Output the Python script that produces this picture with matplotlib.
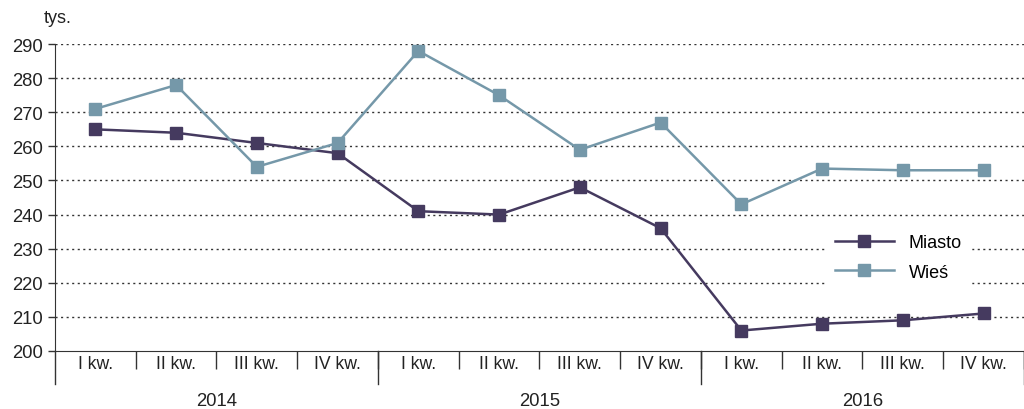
import matplotlib
matplotlib.use("Agg")
import matplotlib.pyplot as plt

plt.rcParams["font.family"] = ["Liberation Sans", "DejaVu Sans"]

quarters = ["I kw.", "II kw.", "III kw.", "IV kw."]
years = ["2014", "2015", "2016"]
miasto = [265, 264, 261, 258, 241, 240, 248, 236, 206, 208, 209, 211]
wies = [271, 278, 254, 261, 288, 275, 259, 267, 243, 253.5, 253, 253]

c_miasto = "#453a5f"
c_wies = "#7598a9"

fig = plt.figure(figsize=(10.24, 4.1), dpi=100)
ax = fig.add_axes([0.0537, 0.1415, 0.9463, 0.7485])

x = list(range(len(miasto)))
ax.plot(x, miasto, color=c_miasto, lw=1.8, marker="s", ms=8.7, label="Miasto", zorder=3)
ax.plot(x, wies, color=c_wies, lw=1.8, marker="s", ms=8.7, label="Wieś", zorder=3)

ax.set_ylim(200, 290)
ax.set_xlim(-0.5, 11.39)
ax.set_yticks(range(200, 291, 10))
for v in range(210, 291, 10):
    ax.axhline(v, color="#333333", lw=1, ls=(0, (1.5, 2.5)), zorder=1)

ax.spines["top"].set_visible(False)
ax.spines["right"].set_visible(False)
ax.spines["left"].set_color("#333333")
ax.spines["bottom"].set_color("#333333")
ax.spines["left"].set_bounds(200, 290)

# quarter boundaries as major ticks, labels on minor ticks
ax.set_xticks([i + 0.5 for i in range(len(miasto))])
ax.set_xticklabels([])
ax.tick_params(axis="x", which="major", length=13, width=1, color="#333333", direction="out")
ax.set_xticks(x, minor=True)
ax.set_xticklabels(quarters * len(years), minor=True, fontsize=12.7, color="#222222")
ax.tick_params(axis="x", which="minor", length=0, pad=3)
ax.tick_params(axis="y", length=5, width=1, color="#333333", labelsize=13.3, labelcolor="#222222")

# year separators and labels
trans = ax.get_xaxis_transform()
for b in [-0.5, 3.5, 7.5, 11.5]:
    ax.plot([b, b], [0, -0.107], transform=trans, color="#333333", lw=1, clip_on=False)
for i, yr in enumerate(years):
    ax.text(i * 4 + 1.5, -0.16, yr, transform=trans, ha="center", va="center",
            fontsize=13.3, color="#222222")

ax.text(-0.012, 1.06, "tys.", transform=ax.transAxes, ha="left", va="bottom",
        fontsize=13, color="#222222")

leg = ax.legend(loc="upper left", bbox_to_anchor=(0.786, 0.44), frameon=True,
                fontsize=13, handlelength=3.3, borderpad=0.5, labelspacing=0.7,
                fancybox=False)
leg.get_frame().set_edgecolor("white")
leg.get_frame().set_facecolor("white")
leg.get_frame().set_alpha(1)

fig.savefig("out.png", dpi=100)
plt.close(fig)
